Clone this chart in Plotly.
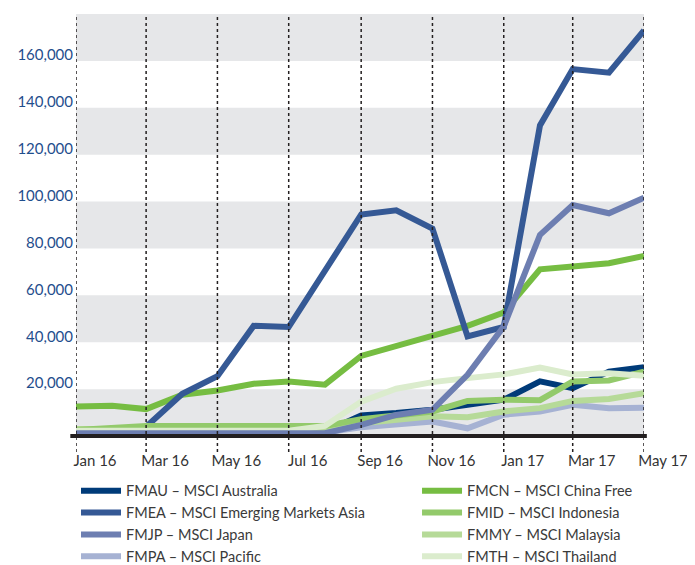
import plotly.graph_objects as go

months = ["2016-01-01", "2016-02-01", "2016-03-01", "2016-04-01", "2016-05-01", "2016-06-01",
          "2016-07-01", "2016-08-01", "2016-09-01", "2016-10-01", "2016-11-01", "2016-12-01",
          "2017-01-01", "2017-02-01", "2017-03-01", "2017-04-01", "2017-05-01"]

fmau = [1000, 1000, 1000, 1000, 1000, 1000, 1000, 1800, 8800, 9800, 11200, 13300, 15500, 23300, 20400, 27500, 29300]
fmea = [1200, 1200, 4000, 18000, 25500, 47000, 46500, 70500, 94500, 96300, 88500, 42500, 46500, 132500, 156500, 155000, 173000]
fmjp = [1200, 1200, 1200, 1200, 1200, 1200, 1200, 1200, 4800, 9000, 11200, 26100, 46700, 85800, 98500, 95000, 101600]
fmpa = [1000, 1000, 1000, 1000, 1000, 1000, 1000, 1500, 3700, 4800, 6200, 3300, 9100, 10500, 13300, 11900, 12100]
fmcn = [12600, 12900, 11500, 17600, 19400, 22300, 23300, 21900, 34200, 38500, 43200, 47000, 52700, 71100, 72300, 73700, 76800]
fmid = [2600, 3400, 4300, 4300, 4300, 4300, 4300, 4300, 7200, 9000, 10500, 15000, 15500, 15300, 23300, 23700, 27500]
fmmy = [3000, 3000, 3000, 3000, 3000, 3000, 3000, 3000, 5500, 6900, 8400, 8000, 10500, 11900, 15000, 15800, 18300]
fmth = [2300, 2300, 2300, 2300, 2300, 2300, 2300, 4300, 14700, 20200, 23000, 24700, 26300, 29200, 26300, 26800, 25700]

series = [
    # name, values, color, legend, rank  (drawing order bottom -> top)
    ("FMCN – MSCI China Free", fmcn, "#76bd42", "legend2", 1),
    ("FMAU – MSCI Australia", fmau, "#003b79", "legend", 1),
    ("FMEA – MSCI Emerging Markets Asia", fmea, "#355995", "legend", 2),
    ("FMPA – MSCI Pacific", fmpa, "#a6b2d3", "legend", 4),
    ("FMMY – MSCI Malaysia", fmmy, "#b6da98", "legend2", 3),
    ("FMID – MSCI Indonesia", fmid, "#93ca6b", "legend2", 2),
    ("FMTH – MSCI Thailand", fmth, "#dbeccd", "legend2", 4),
    ("FMJP – MSCI Japan", fmjp, "#6d7eb1", "legend", 3),
]

tick_dates = ["2016-01-01", "2016-03-01", "2016-05-01", "2016-07-01", "2016-09-01",
              "2016-11-01", "2017-01-01", "2017-03-01", "2017-05-01"]
tick_labels = ["Jan 16", "Mar 16", "May 16", "Jul 16", "Sep 16", "Nov 16", "Jan 17", "Mar 17", "May 17"]
y_ticks = [20000, 40000, 60000, 80000, 100000, 120000, 140000, 160000]
y_labels = ["20,000", "40,000", "60,000", "80,000", "100,000", "120,000", "140,000", "160,000"]
bands = [(0, 20000), (40000, 60000), (80000, 100000), (120000, 140000), (160000, 180000)]

fig = go.Figure()
for name, vals, color, leg, rank in series:
    fig.add_trace(go.Scatter(
        x=months, y=vals, name=name, mode="lines",
        line=dict(color=color, width=6),
        legend=leg, legendrank=rank,
    ))

shapes = []
for b0, b1 in bands:
    shapes.append(dict(type="rect", xref="paper", yref="y", x0=0, x1=1, y0=b0, y1=b1,
                       fillcolor="#e6e7e9", line=dict(width=0), layer="below"))
for d in tick_dates:
    shapes.append(dict(type="line", xref="x", yref="paper", x0=d, x1=d, y0=0, y1=1,
                       line=dict(color="#231f20", width=1.5, dash="dot"), layer="above"))
shapes.append(dict(type="line", xref="paper", yref="y", x0=-0.01, x1=1.005, y0=0, y1=0,
                   line=dict(color="#231f20", width=4), layer="above"))

font = "Lato, 'Open Sans', sans-serif"
leg_common = dict(y=-0.052, xanchor="left", yanchor="top", orientation="v",
                  bgcolor="rgba(0,0,0,0)", font=dict(size=14.5, color="#3a3a3a"),
                  traceorder="normal", tracegroupgap=0, itemwidth=40)
fig.update_layout(
    width=687, height=557,
    margin=dict(l=68, r=51, t=6, b=113, autoexpand=False),
    paper_bgcolor="white", plot_bgcolor="white",
    font=dict(family=font, size=15, color="#333333"),
    shapes=shapes,
    xaxis=dict(
        type="date", range=["2016-01-01", "2017-05-01"],
        tickvals=tick_dates, ticktext=tick_labels,
        showgrid=False, zeroline=False, showline=False, ticks="",
        tickfont=dict(size=15, color="#333333"),
        ticklabelshift=19, ticklabelstandoff=-2,
    ),
    yaxis=dict(
        range=[-6800, 180000], tickvals=y_ticks, ticktext=y_labels,
        showgrid=False, zeroline=False, showline=False, ticks="",
        tickfont=dict(size=15, color="#1f4e8d"),
        ticklabelshift=-6, ticklabelstandoff=2,
    ),
    showlegend=True,
    legend=dict(x=0, **leg_common),
    legend2=dict(x=0.6004, **leg_common),
)

fig.write_html("out.html")
